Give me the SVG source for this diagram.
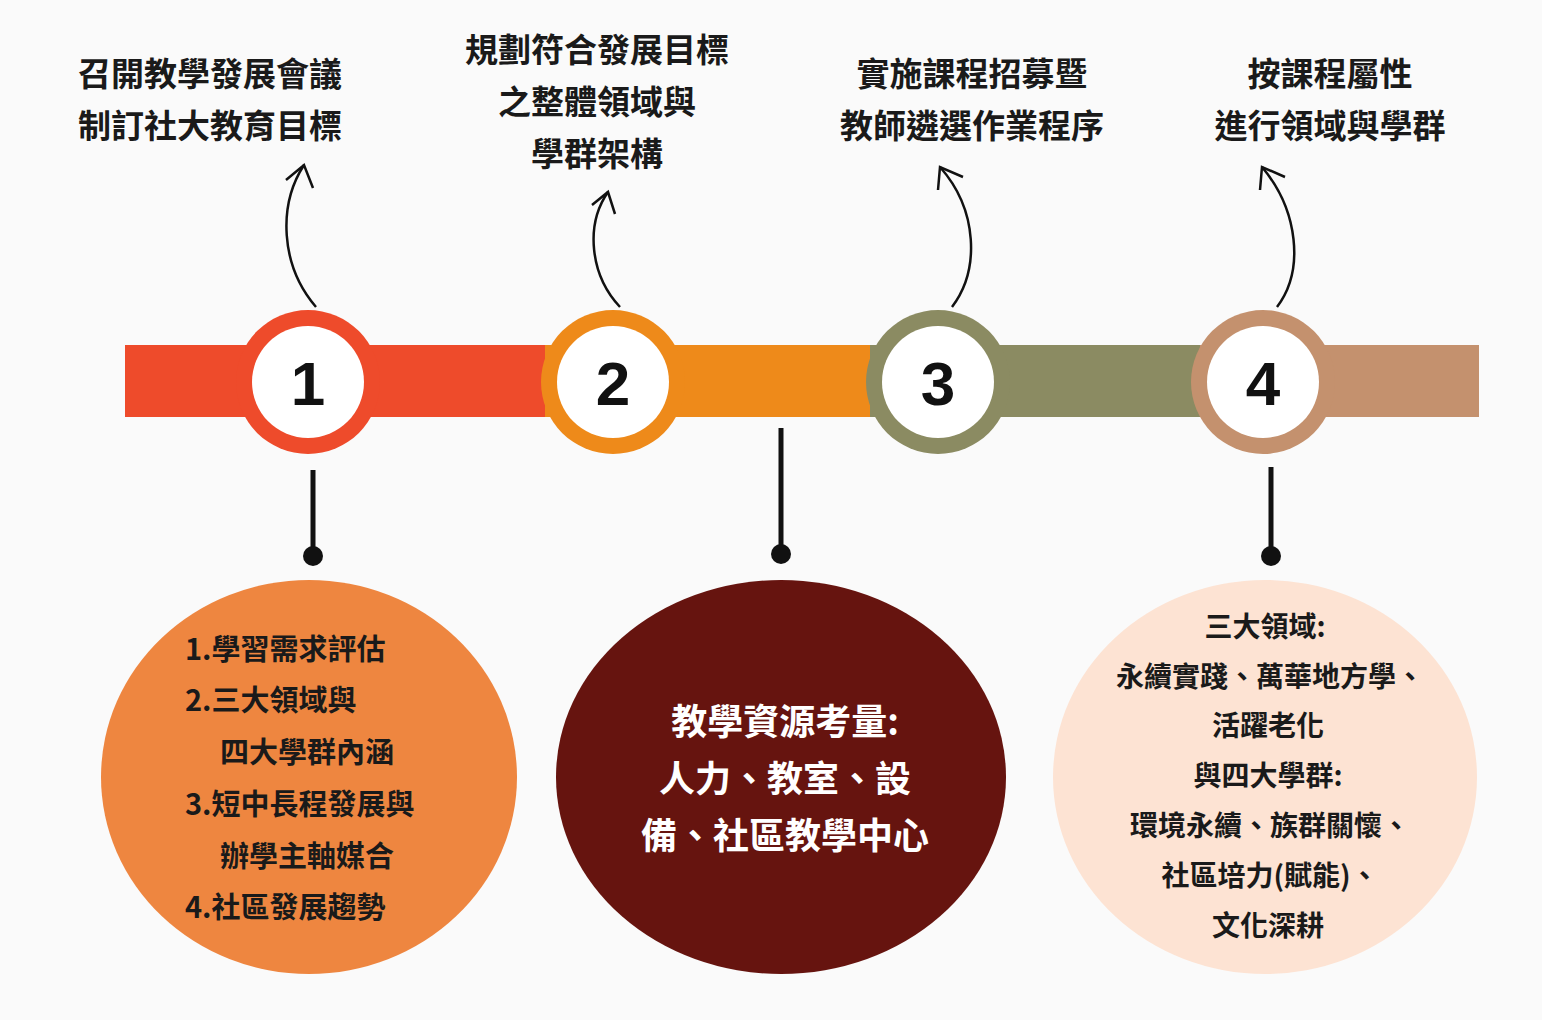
<svg xmlns="http://www.w3.org/2000/svg" width="1542" height="1020" viewBox="0 0 1542 1020">
<style>
.t{font-family:"Noto Sans CJK TC","Noto Sans CJK SC",sans-serif;font-weight:700;fill:#1a1a1a;text-anchor:middle}
.h{font-size:33px}
.n{font-family:"Liberation Sans",Arial,sans-serif;font-weight:700;font-size:62px;fill:#111;text-anchor:middle}
.b{font-size:29px}
.c{fill:none;stroke:#111;stroke-width:2.5}
</style>
<rect width="1542" height="1020" fill="#fafafa"/>
<g id="bar">
<rect x="125" y="345" width="425" height="72" fill="#EE4B2B"/>
<rect x="545" y="345" width="330" height="72" fill="#EE8A1A"/>
<rect x="870" y="345" width="335" height="72" fill="#8B8B62"/>
<rect x="1200" y="345" width="279" height="72" fill="#C4916E"/>
</g>
<g id="step1"><circle cx="308" cy="382" r="72" fill="#EE4B2B"/><circle cx="308" cy="382" r="56" fill="#fff"/><text class="n" x="308" y="405">1</text>
<text class="t h" x="210" y="86">召開教學發展會議</text><text class="t h" x="210" y="138">制訂社大教育目標</text></g>
<g id="step2"><circle cx="613" cy="382" r="72" fill="#EE8A1A"/><circle cx="613" cy="382" r="56" fill="#fff"/><text class="n" x="613" y="405">2</text>
<text class="t h" x="597" y="62">規劃符合發展目標</text><text class="t h" x="597" y="114">之整體領域與</text><text class="t h" x="597" y="166">學群架構</text></g>
<g id="step3"><circle cx="938" cy="382" r="72" fill="#8B8B62"/><circle cx="938" cy="382" r="56" fill="#fff"/><text class="n" x="938" y="405">3</text>
<text class="t h" x="972" y="86">實施課程招募暨</text><text class="t h" x="972" y="138">教師遴選作業程序</text></g>
<g id="step4"><circle cx="1263" cy="382" r="72" fill="#C4916E"/><circle cx="1263" cy="382" r="56" fill="#fff"/><text class="n" x="1263" y="405">4</text>
<text class="t h" x="1330" y="86">按課程屬性</text><text class="t h" x="1330" y="138">進行領域與學群</text></g>
<g id="connectors">
<path class="c" d="M316,307 C280,265 278,205 304,165"/><path class="c" d="M286,180 L304,165 L313,188"/>
<path class="c" d="M620,307 C590,275 585,225 608,192"/><path class="c" d="M592,205 L608,192 L615,214"/>
<path class="c" d="M952,307 C980,270 978,210 940,167"/><path class="c" d="M938,190 L940,167 L963,177"/>
<path class="c" d="M1277,307 C1305,270 1298,210 1262,167"/><path class="c" d="M1260,190 L1262,167 L1285,177"/>
<line x1="313" y1="470" x2="313" y2="555" stroke="#111" stroke-width="5"/><circle cx="313" cy="556" r="10" fill="#111"/>
<line x1="781" y1="428" x2="781" y2="553" stroke="#111" stroke-width="5"/><circle cx="781" cy="554" r="10" fill="#111"/>
<line x1="1271" y1="467" x2="1271" y2="555" stroke="#111" stroke-width="5"/><circle cx="1271" cy="556" r="10" fill="#111"/>
</g>
<g id="box1"><ellipse cx="309" cy="777" rx="208" ry="197" fill="#EE8640"/>
<g class="t b" style="text-anchor:start"><text x="185" y="660">1.學習需求評估</text><text x="185" y="711">2.三大領域與</text><text x="220" y="763">四大學群內涵</text><text x="185" y="815">3.短中長程發展與</text><text x="220" y="867">辦學主軸媒合</text><text x="185" y="918">4.社區發展趨勢</text></g></g>
<g id="box2"><ellipse cx="781" cy="777" rx="225" ry="197" fill="#66140F"/>
<g class="t" style="font-size:36px;fill:#fff"><text x="785" y="735">教學資源考量:</text><text x="785" y="792">人力、教室、設</text><text x="785" y="849">備、社區教學中心</text></g></g>
<g id="box3"><ellipse cx="1265" cy="777" rx="212" ry="197" fill="#FDE3D3"/>
<g class="t" style="font-size:28px"><text x="1265" y="637">三大領域:</text><text x="1270" y="687">永續實踐、萬華地方學、</text><text x="1268" y="736">活躍老化</text><text x="1268" y="786">與四大學群:</text><text x="1270" y="836">環境永續、族群關懷、</text><text x="1270" y="886">社區培力(賦能)、</text><text x="1268" y="936">文化深耕</text></g></g>
</svg>
